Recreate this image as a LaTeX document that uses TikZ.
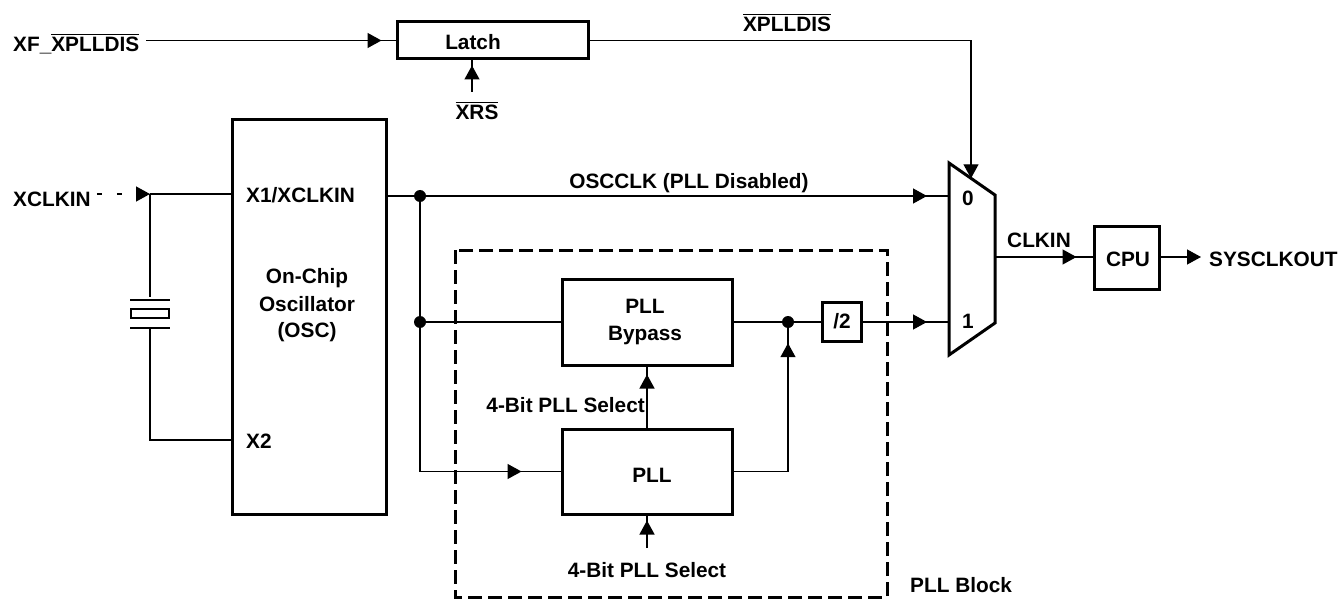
\documentclass[tikz,border=0pt]{standalone}
\usepackage{fontspec}
\setmainfont{Liberation Sans}
\usetikzlibrary{arrows.meta,decorations.markings}
\newcommand{\barred}[1]{\setbox0\hbox{#1}\rlap{\rule[\dimexpr\ht0+2pt\relax]{\wd0}{1.4pt}}\box0}
\begin{document}
\begin{tikzpicture}[x=1pt,y=-1pt,
  lbl/.style={font=\fontsize{20.8}{24}\selectfont\bfseries, inner sep=0pt},
  blk/.style={draw, line width=3pt, inner sep=0pt},
  wire/.style={line width=1.3pt},
  endarrow/.style={-{Triangle[length=14pt,width=15pt]}},
  arrowat/.style={postaction={decorate},decoration={markings,mark=at position #1 with {\arrow{Triangle[length=14pt,width=15pt]}}}},
  jdot/.style={circle, fill, inner sep=0pt, minimum size=12pt},
]
\useasboundingbox (0,0) rectangle (1342,599);

% blocks
\node[blk, minimum width=191pt, minimum height=37pt] (latch) at (492.5,40.5) {};
\node[blk, minimum width=154pt, minimum height=394pt] (osc) at (309,317) {};
\node[blk, minimum width=170pt, minimum height=86pt] (bypass) at (647,322) {};
\node[blk, minimum width=170pt, minimum height=85pt] (pll) at (647,471.5) {};
\node[blk, minimum width=39pt, minimum height=39pt] (div2) at (841.5,322) {};
\node[blk, minimum width=65pt, minimum height=63pt] (cpu) at (1126.5,257.5) {};

% multiplexer
\coordinate (mA) at (949,163);
\coordinate (mB) at (995,195);
\coordinate (mC) at (995,323);
\coordinate (mD) at (949,355);
\draw[line width=3pt, line join=miter] (mA) -- (mB) -- (mC) -- (mD) -- cycle;
\coordinate (min0) at (949,196);
\coordinate (min1) at (949,322);
\coordinate (mout) at (995,257);
\coordinate (msel) at (971,178.3);

% PLL block boundary
\draw[line width=3pt, dash pattern=on 14pt off 6pt] (455,250) rectangle (887,597);

% junction dots
\node[jdot] (d1) at (420,196) {};
\node[jdot] (d2) at (420,322) {};
\node[jdot] (d3) at (788,322) {};

% texts
\node[lbl, anchor=base west] (xf) at (13,52) {XF\_\barred{XPLLDIS}};
\node[lbl, anchor=base] (latchT) at (473,50) {Latch};
\node[lbl, anchor=base] (xrs) at (477,120) {\barred{XRS}};
\node[lbl, anchor=base] (xpd) at (787,32) {\barred{XPLLDIS}};
\node[lbl, anchor=base west] (xclkin) at (13,206) {XCLKIN};
\node[lbl, anchor=base west] (x1) at (246,203) {X1/XCLKIN};
\node[lbl, anchor=base west] (x2) at (246,448) {X2};
\node[lbl, anchor=base] (on1) at (307,283) {On-Chip};
\node[lbl, anchor=base] (on2) at (307,311) {Oscillator};
\node[lbl, anchor=base] (on3) at (307,337) {(OSC)};
\node[lbl, anchor=base] (oscclk) at (689,189) {OSCCLK (PLL Disabled)};
\node[lbl, anchor=base] (bp1) at (645,313) {PLL};
\node[lbl, anchor=base] (bp2) at (645,340) {Bypass};
\node[lbl, anchor=base] (pllT) at (652,482) {PLL};
\node[lbl, anchor=base east] (sel1) at (645,412) {4-Bit PLL Select};
\node[lbl, anchor=base] (sel2) at (647,577) {4-Bit PLL Select};
\node[lbl, anchor=base] (div2T) at (842,328) {/2};
\node[lbl, anchor=base west] (blkT) at (910,592) {PLL Block};
\node[lbl, anchor=base] (in0) at (968,205) {0};
\node[lbl, anchor=base] (in1) at (968,328) {1};
\node[lbl, anchor=base] (clkin) at (1039,247) {CLKIN};
\node[lbl, anchor=base] (cpuT) at (1128,266) {CPU};
\node[lbl, anchor=base west] (sysclk) at (1209,266) {SYSCLKOUT};

% latch wiring
\draw[wire, arrowat=-14pt] ([xshift=7pt]xf.east |- latch.west) -- (latch.west);
\coordinate (xrsIn) at (472,92);
\draw[wire, arrowat=-5pt] (xrsIn) -- (xrsIn |- latch.south);
\draw[wire, endarrow] (latch.east) -| (msel);

% oscillator input side
\coordinate (xj) at (150,194);
\coordinate (cT) at (150,297);
\coordinate (cB) at (150,328);
\coordinate (x2in) at (232,440);
\draw[wire, dash pattern=on 5pt off 15pt, endarrow] ([xshift=6pt]xclkin.east |- xj) -- (xj);
\draw[wire] (xj) -- (xj -| osc.west);
\draw[wire] (xj) -- (cT);
\draw[wire] (cB) |- (x2in);
% crystal symbol
\draw[wire] (130,300) -- (170,300);
\draw[wire] (131,309) rectangle (169,318);
\draw[wire] (130,328) -- (170,328);

% clock paths
\draw[wire] (osc.east |- d1) -- (d1);
\draw[wire, arrowat=-22pt] (d1) -- (min0);
\draw[wire] (d1) -- (d2);
\draw[wire] (d2) -- (bypass.west);
\draw[wire, arrowat=-39pt] (d2) |- (pll.west);
\draw[wire] (bypass.east) -- (d3);
\draw[wire] (d3) -- (div2.west);
\draw[wire, arrowat=-22pt] (div2.east) -- (min1);
\draw[wire, arrowat=-15pt] (pll.east) -| (d3);
\draw[wire, arrowat=-8pt] (pll.north) -- (bypass.south);
\coordinate (selIn) at (647,548);
\draw[wire, arrowat=-5pt] (selIn) -- (pll.south);
\draw[wire, arrowat=-16pt] (mout) -- (cpu.west |- mout);
\draw[wire, endarrow] (cpu.east |- mout) -- ([xshift=-8pt]sysclk.west |- mout);
\end{tikzpicture}
\end{document}
